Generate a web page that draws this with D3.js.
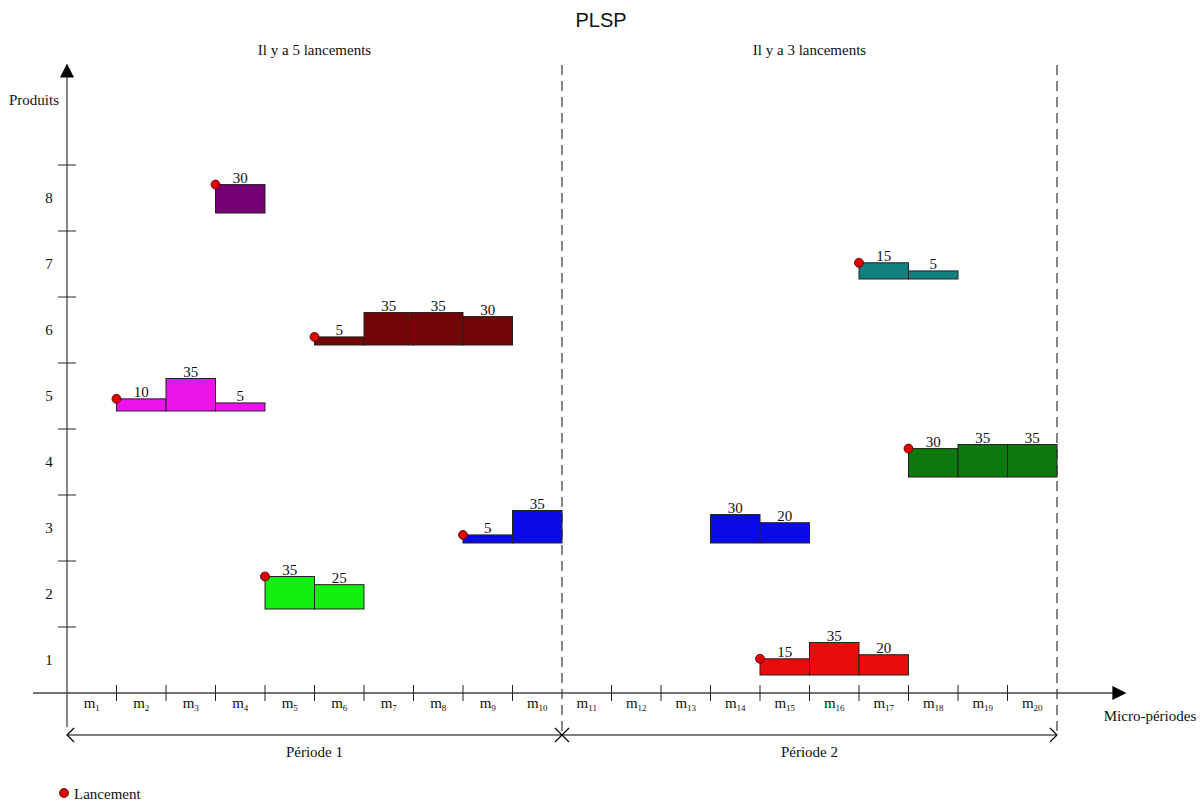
<!DOCTYPE html>
<html>
<head>
<meta charset="utf-8">
<script src="https://cdn.jsdelivr.net/npm/d3@7"></script>
<style>
  body { margin: 0; background: #fff; }
  svg text { font-family: "Liberation Serif", "DejaVu Serif", serif; fill: #111; }
</style>
</head>
<body>
<div id="chart"></div>
<script>
// products on the y axis, micro-periods on the x axis
const products = [1, 2, 3, 4, 5, 6, 7, 8];
const microPeriods = d3.range(1, 21);
const productColors = ["#e80c0c", "#12f012", "#0a0ae8", "#0b790b", "#ea13ea", "#720505", "#138080", "#750075"];

// runs of production: product, first micro-period, quantities, launched or not
const runProduct = [8, 5, 6, 3, 2, 3, 1, 7, 4];
const runStart   = [4, 2, 6, 9, 5, 14, 15, 17, 18];
const runValues  = [[30], [10, 35, 5], [5, 35, 35, 30], [5, 35], [35, 25], [30, 20], [15, 35, 20], [15, 5], [30, 35, 35]];
const runLaunch  = [true, true, true, true, true, false, true, true, true];

const periodLabels = ["Période 1", "Période 2"];
const periodBounds = [[0, 10], [10, 20]];
const launchCounts = ["Il y a 5 lancements", "Il y a 3 lancements"];

let width = 1202;
let height = 806;
let fs = "15px";

let svg = d3.select("#chart")
    .append("svg")
    .attr("width", width)
    .attr("height", height);

let x = d3.scaleLinear().domain([0, 20]).range([67, 1057]);
let y = d3.scaleLinear().domain([0.5, 8.5]).range([693, 165]);
let h = d3.scaleLinear().domain([0, 35]).range([4, 32.5]);

let defs = svg.append("defs");
defs.append("marker")
    .attr("id", "arrow")
    .attr("viewBox", "0 0 10 10")
    .attr("refX", 9).attr("refY", 5)
    .attr("markerWidth", 14).attr("markerHeight", 14)
    .attr("markerUnits", "userSpaceOnUse")
    .attr("orient", "auto")
    .append("path")
    .attr("d", "M0,0 L10,5 L0,10 z")
    .attr("fill", "#000");

// title
svg.append("text")
    .attr("x", 601).attr("y", 27)
    .attr("text-anchor", "middle")
    .style("font-family", "'Liberation Sans', Arial, sans-serif")
    .style("font-size", "20px")
    .text("PLSP");

// launch count headers
launchCounts.forEach(function (t, i) {
    svg.append("text")
        .attr("x", x((periodBounds[i][0] + periodBounds[i][1]) / 2))
        .attr("y", 55)
        .attr("text-anchor", "middle")
        .style("font-size", fs)
        .text(t);
});

// dashed period boundaries
[10, 20].forEach(function (p) {
    svg.append("line")
        .attr("x1", x(p)).attr("x2", x(p))
        .attr("y1", 65).attr("y2", 735)
        .attr("stroke", "#333")
        .attr("stroke-width", 1.2)
        .attr("stroke-dasharray", "10,6");
});

// axes
svg.append("line")
    .attr("x1", 33).attr("x2", 1125)
    .attr("y1", y(0.5)).attr("y2", y(0.5))
    .attr("stroke", "#444").attr("stroke-width", 1.3)
    .attr("marker-end", "url(#arrow)");
svg.append("line")
    .attr("x1", x(0)).attr("x2", x(0))
    .attr("y1", 727).attr("y2", 65)
    .attr("stroke", "#444").attr("stroke-width", 1.3)
    .attr("marker-end", "url(#arrow)");

// x ticks + micro-period labels
let xTicks = svg.append("g");
microPeriods.forEach(function (m) {
    if (m % 10 != 0) {
        xTicks.append("line")
            .attr("x1", x(m)).attr("x2", x(m))
            .attr("y1", y(0.5) - 8).attr("y2", y(0.5) + 8)
            .attr("stroke", "#222");
    }
    let t = xTicks.append("text")
        .attr("x", x(m - 0.5))
        .attr("y", y(0.5) + 15)
        .attr("text-anchor", "middle")
        .style("font-size", fs);
    t.append("tspan").text("m");
    t.append("tspan")
        .attr("dy", 3)
        .style("font-size", "9px")
        .text(m);
});

// y ticks + labels
let yTicks = svg.append("g");
products.forEach(function (p) {
    yTicks.append("line")
        .attr("x1", x(0) - 9).attr("x2", x(0) + 9)
        .attr("y1", y(p + 0.5)).attr("y2", y(p + 0.5))
        .attr("stroke", "#222");
    yTicks.append("text")
        .attr("x", 49).attr("y", y(p) + 5)
        .attr("text-anchor", "middle")
        .style("font-size", fs)
        .text(p);
});

svg.append("text")
    .attr("x", 34).attr("y", 105)
    .attr("text-anchor", "middle")
    .style("font-size", fs)
    .text("Produits");
svg.append("text")
    .attr("x", 1150).attr("y", 721)
    .attr("text-anchor", "middle")
    .style("font-size", fs)
    .text("Micro-périodes");

// production bars
let bars = svg.append("g");
runProduct.forEach(function (p, i) {
    let base = y(p) + 15;
    let color = productColors[p - 1];
    runValues[i].forEach(function (v, j) {
        let m = runStart[i] + j;
        bars.append("rect")
            .attr("x", x(m - 1))
            .attr("y", base - h(v))
            .attr("width", x(m) - x(m - 1))
            .attr("height", h(v))
            .attr("fill", color)
            .attr("stroke", "#222")
            .attr("stroke-width", 1);
        bars.append("text")
            .attr("x", x(m - 0.5))
            .attr("y", base - h(v) - 2)
            .attr("text-anchor", "middle")
            .style("font-size", fs)
            .text(v);
    });
    if (runLaunch[i]) {
        bars.append("circle")
            .attr("cx", x(runStart[i] - 1))
            .attr("cy", base - h(runValues[i][0]))
            .attr("r", 4.5)
            .attr("fill", "#e00000")
            .attr("stroke", "#400")
            .attr("stroke-width", 0.8);
    }
});

// period arrows
let arrowY = 735;
svg.append("line")
    .attr("x1", x(0)).attr("x2", x(20))
    .attr("y1", arrowY).attr("y2", arrowY)
    .attr("stroke", "#000").attr("stroke-width", 1.2);
function chevron(px, dir) {
    svg.append("path")
        .attr("d", "M" + (px - dir * 7) + "," + (arrowY - 7) + " L" + px + "," + arrowY +
            " L" + (px - dir * 7) + "," + (arrowY + 7))
        .attr("fill", "none")
        .attr("stroke", "#000")
        .attr("stroke-width", 1.2);
}
periodBounds.forEach(function (b, i) {
    chevron(x(b[0]), -1);
    chevron(x(b[1]), 1);
    svg.append("text")
        .attr("x", x((b[0] + b[1]) / 2))
        .attr("y", 757)
        .attr("text-anchor", "middle")
        .style("font-size", fs)
        .text(periodLabels[i]);
});

// legend
svg.append("circle")
    .attr("cx", 64).attr("cy", 793)
    .attr("r", 4.5)
    .attr("fill", "#e00000")
    .attr("stroke", "#400")
    .attr("stroke-width", 0.8);
svg.append("text")
    .attr("x", 74).attr("y", 799)
    .style("font-size", fs)
    .text("Lancement");
</script>
</body>
</html>
